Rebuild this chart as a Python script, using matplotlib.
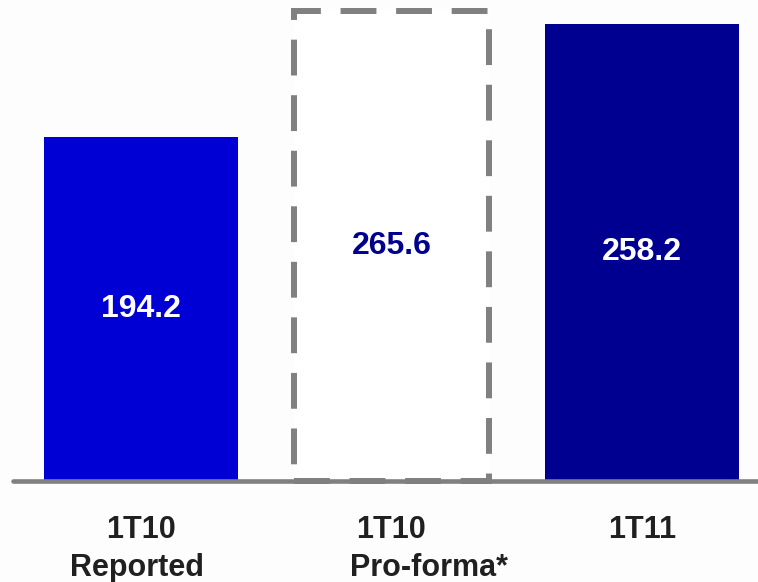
import matplotlib
matplotlib.use("Agg")
import matplotlib.pyplot as plt

plt.rcParams['font.family'] = ['Liberation Sans', 'DejaVu Sans']

periods = ['1T10', '1T10', '1T11']
subtitles = ['Reported', 'Pro-forma*', '']
values = [194.2, 265.6, 258.2]

fig = plt.figure(figsize=(7.58, 5.82), dpi=100, facecolor='#fdfdfd')
ax = fig.add_axes([0, 0, 1, 1])
ax.set_facecolor('#fdfdfd')

w = 0.775

# reported and current quarter as solid bars
ax.bar(0, values[0], width=w, color='#0000d4', zorder=2)
ax.bar(2, values[2], width=w, color='#000090', zorder=2)
# pro-forma shown as a dashed outline
ax.bar(1, values[1], width=w, facecolor='white', edgecolor='#808080',
       linewidth=4.3, linestyle=(0, (6.0, 3.3)), zorder=2)

# value labels in the middle of each bar
label_colors = ['white', '#000090', 'white']
for i, v in enumerate(values):
    ax.text(i, v / 2, f'{v:.1f}', ha='center', va='center',
            fontsize=23, fontweight='bold', color=label_colors[i], zorder=4)

# baseline
ax.axhline(0, xmin=13 / 758, xmax=1, color='#808080', linewidth=3.3,
           solid_capstyle='round', zorder=3)

# category labels below the axis
sub_shift = [-0.015, 0.15, 0]
for i, (p, s) in enumerate(zip(periods, subtitles)):
    ax.text(i, -27.7, p, ha='center', va='center', fontsize=22,
            fontweight='bold', color='#202020')
    if s:
        ax.text(i + sub_shift[i], -49.3, s, ha='center', va='center',
                fontsize=22, fontweight='bold', color='#202020')

ax.set_xlim(-141 / 250.5, (758 - 141) / 250.5)
ax.set_ylim(-101 / 1.771, 481 / 1.771)
ax.axis('off')

fig.savefig('out.png', dpi=100, facecolor=fig.get_facecolor())
